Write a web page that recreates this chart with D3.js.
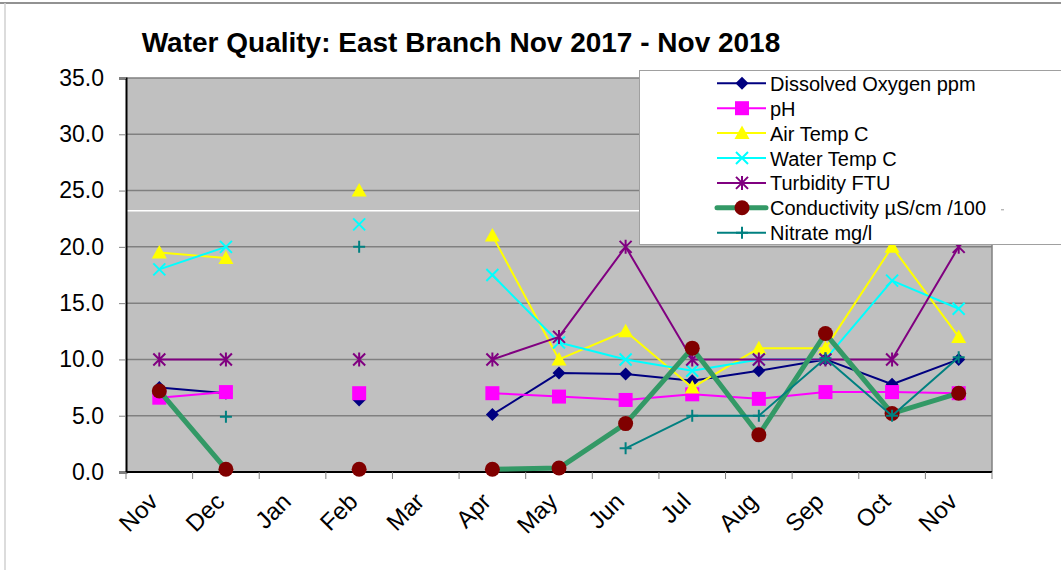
<!DOCTYPE html>
<html>
<head>
<meta charset="utf-8">
<script src="https://cdn.jsdelivr.net/npm/d3@7"></script>
<style>
  html, body { margin: 0; padding: 0; background: #fff; }
  svg { display: block; font-family: "Liberation Sans", Arial, sans-serif; }
</style>
</head>
<body>
<svg id="chart" width="1061" height="570"></svg>
<script>
const months = ["Nov", "Dec", "Jan", "Feb", "Mar", "Apr", "May", "Jun", "Jul", "Aug", "Sep", "Oct", "Nov"];
const yTicks = [0, 5, 10, 15, 20, 25, 30, 35];

const dissolvedOxygen = [7.5, 7.0, null, 6.4, null, 5.1, 8.8, 8.7, 8.1, 9.0, 10.0, 7.8, 10.0];
const ph            = [6.6, 7.1, null, 7.0, null, 7.0, 6.7, 6.4, 6.9, 6.5, 7.1, 7.1, 7.0];
const airTemp       = [19.5, 19.0, null, 25.0, null, 21.0, 10.0, 12.5, 7.5, 11.0, 11.0, 20.0, 12.0];
const waterTemp     = [18.0, 20.0, null, 22.0, null, 17.5, 11.5, 10.0, 9.0, 10.0, 10.0, 17.0, 14.5];
const turbidity     = [10, 10, null, 10, null, 10, 12, 20, 10, 10, 10, 10, 20];
const conductivity  = [7.2, 0.25, null, 0.25, null, 0.25, 0.35, 4.3, 11.0, 3.3, 12.3, 5.2, 7.0];
const nitrate       = [null, 4.9, null, 20.0, null, null, null, 2.1, 5.0, 5.0, 10.1, 5.0, 10.2];

const series = [
  { name: "Dissolved Oxygen ppm", values: dissolvedOxygen, line: "#000080", width: 2, marker: "diamond", fill: "#000080" },
  { name: "pH", values: ph, line: "#ff00ff", width: 2, marker: "square", fill: "#ff00ff" },
  { name: "Air Temp C", values: airTemp, line: "#ffff00", width: 2, marker: "triangle", fill: "#ffff00" },
  { name: "Water Temp C", values: waterTemp, line: "#00ffff", width: 2, marker: "x", fill: "#00ffff" },
  { name: "Turbidity FTU", values: turbidity, line: "#800080", width: 2, marker: "asterisk", fill: "#800080" },
  { name: "Conductivity µS/cm /100", values: conductivity, line: "#339966", width: 5, marker: "circle", fill: "#800000" },
  { name: "Nitrate mg/l", values: nitrate, line: "#008080", width: 2, marker: "plus", fill: "#008080" }
];

const plot = { left: 126, right: 992, top: 78, bottom: 472 };

const svg = d3.select("#chart");

// cadre extérieur
svg.append("line").attr("x1", 0).attr("x2", 1061).attr("y1", 3).attr("y2", 3)
  .attr("stroke", "#6e6e6e").attr("stroke-width", 1.5);
svg.append("line").attr("x1", 5).attr("x2", 5).attr("y1", 3).attr("y2", 570)
  .attr("stroke", "#d0d0d0").attr("stroke-width", 1.5);

// titre
svg.append("text")
  .attr("x", 461).attr("y", 52)
  .attr("text-anchor", "middle")
  .attr("font-size", 28).attr("font-weight", "bold")
  .text("Water Quality: East Branch Nov 2017 - Nov 2018");

const x = d3.scaleBand()
  .domain(months.map((d, i) => i))
  .range([plot.left, plot.right]);

const y = d3.scaleLinear()
  .domain([0, 35])
  .range([plot.bottom, plot.top]);

const cx = i => x(i) + x.bandwidth() / 2;

// fond du tracé
svg.append("rect")
  .attr("x", plot.left).attr("y", plot.top)
  .attr("width", plot.right - plot.left).attr("height", plot.bottom - plot.top)
  .attr("fill", "#c0c0c0");

// quadrillage
svg.append("g")
  .selectAll("line")
  .data(yTicks.filter(v => v > 0))
  .join("line")
  .attr("x1", plot.left).attr("x2", plot.right)
  .attr("y1", d => y(d)).attr("y2", d => y(d))
  .attr("stroke", "#808080").attr("stroke-width", 1.5);

// trait blanc parasite de l'original
svg.append("line")
  .attr("x1", plot.left).attr("x2", 640)
  .attr("y1", y(23.2)).attr("y2", y(23.2))
  .attr("stroke", "#ffffff").attr("stroke-width", 1.5);

// bord droit
svg.append("line")
  .attr("x1", plot.right).attr("x2", plot.right)
  .attr("y1", plot.top).attr("y2", plot.bottom)
  .attr("stroke", "#808080").attr("stroke-width", 1.5);

// axe Y
const yAxis = svg.append("g")
  .attr("transform", `translate(${plot.left},0)`)
  .call(d3.axisLeft(y).tickValues(yTicks).tickFormat(d3.format(".1f")).tickSize(7).tickPadding(15));
yAxis.select(".domain").attr("stroke", "#000").attr("stroke-width", 2);
yAxis.selectAll(".tick line").attr("stroke", "#808080");
yAxis.selectAll(".tick text").attr("font-size", 23).attr("fill", "#000")
  .attr("font-family", "'Liberation Sans', Arial, sans-serif");

// axe X : graduations aux limites des catégories
const xAxis = svg.append("g").attr("transform", `translate(0,${plot.bottom})`);
xAxis.append("line")
  .attr("x1", plot.left).attr("x2", plot.right)
  .attr("stroke", "#000").attr("stroke-width", 2);
xAxis.selectAll("line.tk")
  .data(months.map((d, i) => x(i)).concat([plot.right]))
  .join("line").attr("class", "tk")
  .attr("x1", d => d).attr("x2", d => d)
  .attr("y1", 0).attr("y2", 7)
  .attr("stroke", "#808080");
xAxis.selectAll("text")
  .data(months)
  .join("text")
  .attr("transform", (d, i) => `translate(${cx(i)},${31}) rotate(-45)`)
  .attr("text-anchor", "end")
  .attr("font-size", 24)
  .text(d => d);

// marqueurs
function drawMarker(sel, s) {
  const k = s.marker;
  if (k === "diamond") {
    sel.append("path").attr("d", "M0,-6.5L6.5,0L0,6.5L-6.5,0Z").attr("fill", s.fill);
  } else if (k === "square") {
    sel.append("rect").attr("x", -7).attr("y", -7).attr("width", 14).attr("height", 14).attr("fill", s.fill);
  } else if (k === "triangle") {
    sel.append("path").attr("d", "M0,-7.5L7.5,6L-7.5,6Z").attr("fill", s.fill);
  } else if (k === "circle") {
    sel.append("circle").attr("r", 7.5).attr("fill", s.fill);
  } else if (k === "x") {
    sel.append("path").attr("d", "M-6,-6L6,6M-6,6L6,-6").attr("stroke", s.fill).attr("stroke-width", 2).attr("fill", "none");
  } else if (k === "asterisk") {
    sel.append("path").attr("d", "M-6,-6L6,6M-6,6L6,-6M0,-7L0,7").attr("stroke", s.fill).attr("stroke-width", 2).attr("fill", "none");
  } else if (k === "plus") {
    sel.append("path").attr("d", "M-6,0L6,0M0,-6L0,6").attr("stroke", s.fill).attr("stroke-width", 2).attr("fill", "none");
  }
}

const line = d3.line()
  .defined(d => d.v !== null)
  .x(d => cx(d.i))
  .y(d => y(d.v));

// séries, dans l'ordre d'Excel
series.forEach(s => {
  const pts = s.values.map((v, i) => ({ i, v }));
  const g = svg.append("g");
  g.append("path")
    .attr("d", line(pts))
    .attr("fill", "none")
    .attr("stroke", s.line)
    .attr("stroke-width", s.width)
    .attr("stroke-linejoin", "round");
  g.selectAll("g.m")
    .data(pts.filter(d => d.v !== null))
    .join("g").attr("class", "m")
    .attr("transform", d => `translate(${cx(d.i)},${y(d.v)})`)
    .each(function() { drawMarker(d3.select(this), s); });
});

// légende
const legend = svg.append("g");
legend.append("rect")
  .attr("x", 639.5).attr("y", 70.5)
  .attr("width", 430).attr("height", 174)
  .attr("fill", "#fff").attr("stroke", "#a0a0a0").attr("stroke-width", 1);

series.forEach((s, i) => {
  const ly = 83.3 + i * 24.9;
  const row = legend.append("g").attr("transform", `translate(0,${ly})`);
  row.append("line")
    .attr("x1", 717).attr("x2", 766)
    .attr("stroke", s.line).attr("stroke-width", s.width)
    .attr("stroke-linecap", s.width > 2 ? "round" : "butt");
  drawMarker(row.append("g").attr("transform", "translate(742,0)"), s);
  row.append("text")
    .attr("x", 770).attr("y", 7.5)
    .attr("font-size", 20)
    .text(s.name);
});
// petit tiret après "Conductivity"
legend.append("line")
  .attr("x1", 1001).attr("x2", 1004)
  .attr("y1", 83.3 + 5 * 24.9 + 2).attr("y2", 83.3 + 5 * 24.9 + 2)
  .attr("stroke", "#999");
</script>
</body>
</html>
